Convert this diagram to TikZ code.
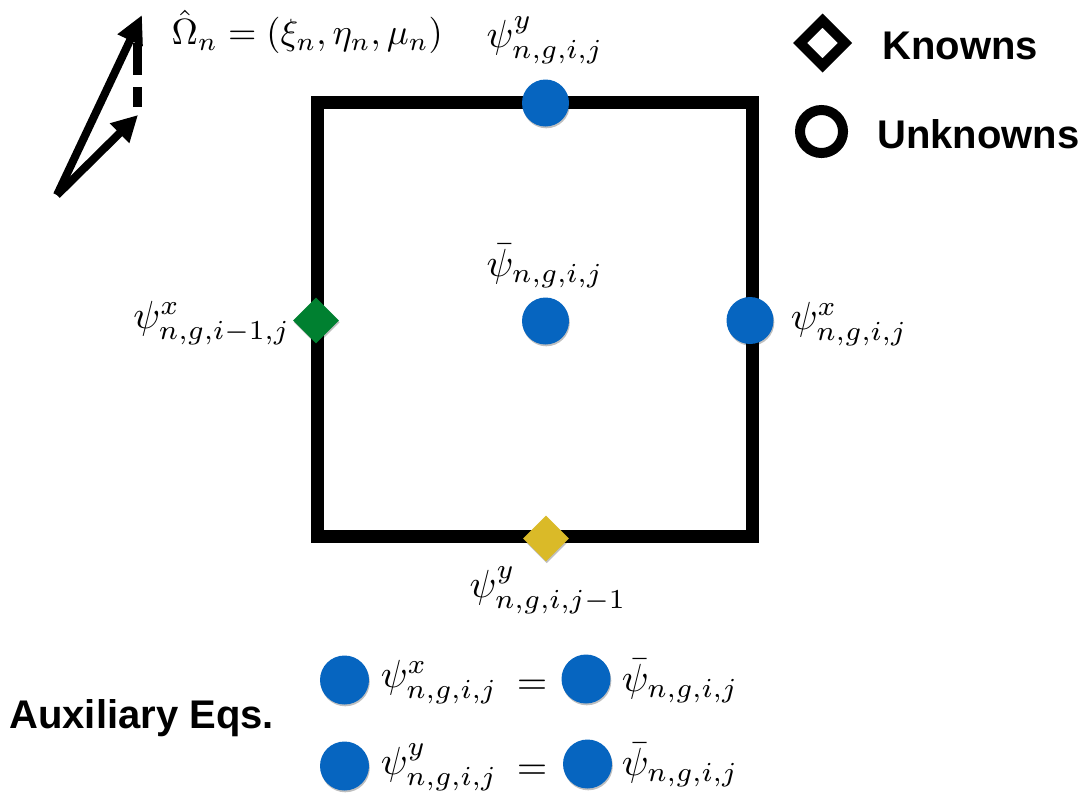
\documentclass[tikz,border=0pt]{standalone}
\usepackage{fontspec}
\newfontfamily\lsans{Liberation Sans}
\usetikzlibrary{shapes.geometric,arrows.meta,shadows}
\definecolor{dotblue}{RGB}{6,101,192}
\definecolor{dotgreen}{RGB}{0,128,48}
\definecolor{dotyellow}{RGB}{218,186,40}
\tikzset{
  shad/.style={drop shadow={shadow xshift=0.4pt,shadow yshift=-0.9pt,opacity=0.25,fill=black}},
  unk/.style={circle,fill=dotblue,minimum size=23.5pt,inner sep=0pt,shad},
  knw/.style={diamond,minimum size=23pt,inner sep=0pt,shad},
  mlab/.style={scale=1.96,transform shape,inner sep=0pt},
  sanslab/.style={font=\lsans\bfseries\fontsize{20}{24}\selectfont,inner sep=0pt,anchor=west},
  vec/.style={line width=4pt,-{Triangle[length=14pt,width=13pt]}},
}
\begin{document}
\begin{tikzpicture}[x=0.5pt,y=-0.5pt]
\useasboundingbox (0,0) rectangle (1091,794);
% direction vectors
\coordinate (o) at (57,195);
\coordinate (t1) at (142,15);
\coordinate (t2) at (138,115);
\coordinate (d1) at (137,43);
\coordinate (d2) at (137,107);
\draw[line width=4.5pt,dash pattern=on 16pt off 6pt] (d1) -- (d2);
\draw[vec] (o) -- (t1);
\draw[vec,-{Triangle[length=13pt,width=13pt]}] (o) -- (t2);
\node[mlab,scale=0.93,anchor=west] (om) at (171,32) {$\hat\Omega_n=(\xi_n,\eta_n,\mu_n)$};
% cell
\draw[line width=6.5pt] (317,102.5) rectangle (752,536.5);
\node[unk] (top) at (545.5,103) {};
\node[unk] (cen) at (545.5,321) {};
\node[unk] (rgt) at (750,320.5) {};
\node[knw,fill=dotgreen] (lft) at (316,320.5) {};
\node[knw,fill=dotyellow] (bot) at (546,538.5) {};
\node[mlab] (ltop) at (545,40) {$\psi^{y}_{n,g,i,j}$};
\node[mlab] (lcen) at (545,266) {$\bar\psi_{n,g,i,j}$};
\node[mlab,anchor=east] (llft) at (291,323) {$\psi^{x}_{n,g,i-1,j}$};
\node[mlab,anchor=west] (lrgt) at (790,324) {$\psi^{x}_{n,g,i,j}$};
\node[mlab] (lbot) at (548,590) {$\psi^{y}_{n,g,i,j-1}$};
% legend
\node[diamond,draw,line width=5pt,minimum size=24.5pt,inner sep=0pt,shad,fill=white] (kd) at (822.5,43) {};
\node[circle,draw,line width=5pt,minimum size=21.5pt,inner sep=0pt,shad,fill=white] (uc) at (821.5,131.5) {};
\node[sanslab] (kt) at (882,46) {Knowns};
\node[sanslab] (ut) at (877,134) {Unknowns};
% auxiliary equations
\node[sanslab] (aux) at (9,718) {Auxiliary Eqs.};
\node[unk,minimum size=24.5pt] (a1) at (344.5,680) {};
\node[mlab,anchor=west] (a1t) at (380,682) {$\psi^{x}_{n,g,i,j}$};
\node[mlab] (e1) at (532,687) {$=$};
\node[unk,minimum size=24.5pt] (b1) at (586,679) {};
\node[mlab,anchor=west] (b1t) at (621,681) {$\bar\psi_{n,g,i,j}$};
\node[unk,minimum size=24.5pt] (a2) at (344.5,766) {};
\node[mlab,anchor=west] (a2t) at (380,767) {$\psi^{y}_{n,g,i,j}$};
\node[mlab] (e2) at (532,772) {$=$};
\node[unk,minimum size=24.5pt] (b2) at (587.5,764) {};
\node[mlab,anchor=west] (b2t) at (621,765) {$\bar\psi_{n,g,i,j}$};
\end{tikzpicture}
\end{document}
